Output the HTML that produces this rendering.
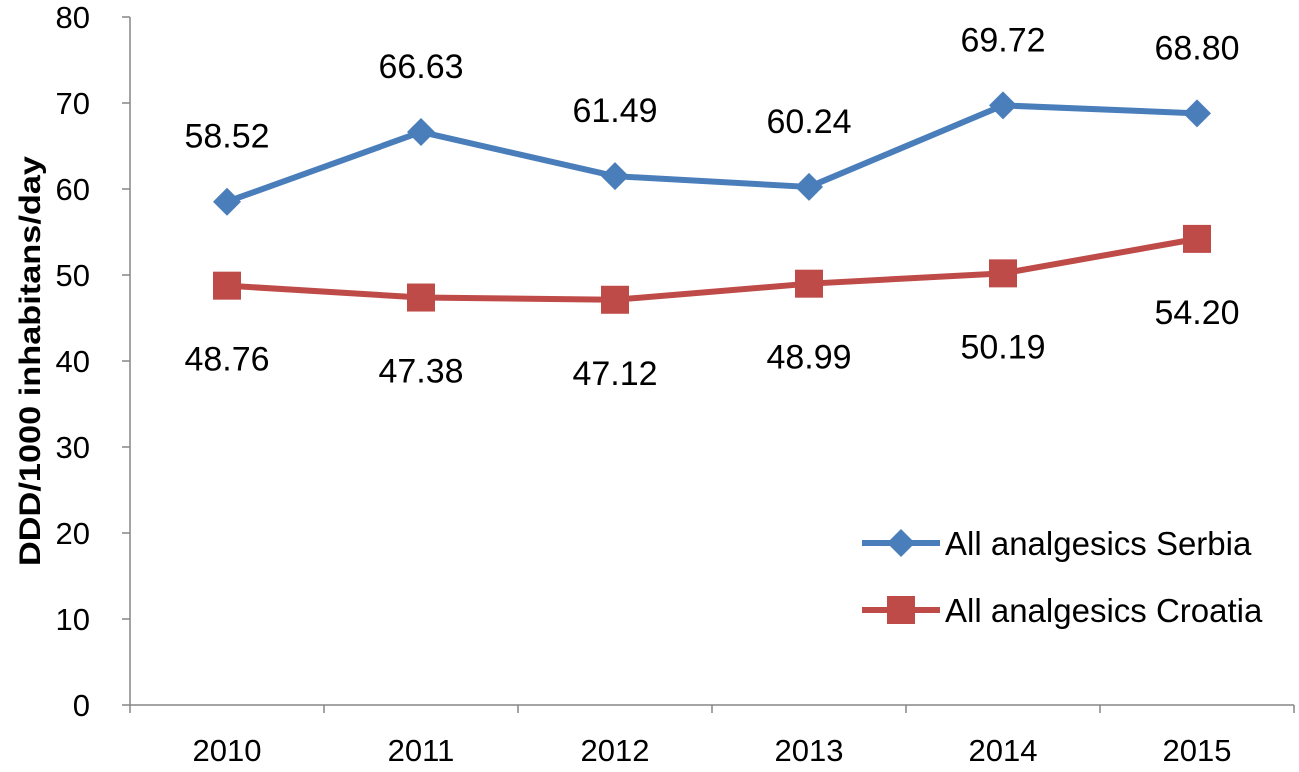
<!DOCTYPE html>
<html><head><meta charset="utf-8"><style>
html,body{margin:0;padding:0;background:#fff;}
svg{display:block;font-family:"Liberation Sans",sans-serif;}
</style></head><body>
<svg id="chart" width="1299" height="772" viewBox="0 0 1299 772"></svg>
<script>
const categories=["2010","2011","2012","2013","2014","2015"];
const serbia=[58.52,66.63,61.49,60.24,69.72,68.80];
const croatia=[48.76,47.38,47.12,48.99,50.19,54.20];
const yTicks=[0,10,20,30,40,50,60,70,80];
const seriesNames=["All analgesics Serbia","All analgesics Croatia"];

const NS="http://www.w3.org/2000/svg";
const svg=document.getElementById('chart');
const x0=130,x1=1294,yBot=705,yTop=17,yMax=80;
const step=(x1-x0)/categories.length;
const X=i=>x0+step*(i+0.5);
const Y=v=>yBot-(v/yMax)*(yBot-yTop);
function el(tag,attrs,parent){const e=document.createElementNS(NS,tag);for(const k in attrs)e.setAttribute(k,attrs[k]);(parent||svg).appendChild(e);return e;}

const axes=el('g',{});


let a=el('line',{x1:x0,y1:yTop,x2:x0,y2:yBot,stroke:'#868686','stroke-width':1.5},axes);


a=el('line',{x1:x0,y1:yBot,x2:x1,y2:yBot,stroke:'#868686','stroke-width':1.5},axes);


yTicks.forEach(t=>{
  el('line',{x1:x0-8,y1:Y(t),x2:x0,y2:Y(t),stroke:'#868686','stroke-width':1.5},axes);
  const tx=el('text',{x:x0-40,y:Y(t)+11,'text-anchor':'end','font-size':31,fill:'#000'},axes);
  tx.textContent=t;
  
  
});
for(let i=0;i<=categories.length;i++){
  el('line',{x1:x0+step*i,y1:yBot,x2:x0+step*i,y2:yBot+8,stroke:'#868686','stroke-width':1.5},axes);
}
categories.forEach((c,i)=>{
  const tx=el('text',{x:X(i),y:yBot+56,'text-anchor':'middle','font-size':31,fill:'#000'},axes);
  tx.textContent=c;
  
  
});
const yt=el('text',{x:0,y:0,transform:'translate(40,361) rotate(-90)','text-anchor':'middle','font-size':30,'font-weight':'bold',fill:'#000',textLength:410,lengthAdjust:'spacingAndGlyphs'});
yt.textContent='DDD/1000 inhabitans/day';



function marker(g,type,cx,cy,color){
  let m;
  if(type==='diamond') m=el('polygon',{points:`${cx},${cy-14} ${cx+14},${cy} ${cx},${cy+14} ${cx-14},${cy}`,fill:color},g);
  else m=el('rect',{x:cx-14,y:cy-14,width:28,height:28,fill:color},g);
  return m;
}
function series(vals,color,type,labelOff,name){
  const g=el('g',{});
  
  
  el('polyline',{points:vals.map((v,i)=>X(i)+','+Y(v)).join(' '),fill:'none',stroke:color,'stroke-width':6,'stroke-linejoin':'round'},g);
  vals.forEach((v,i)=>{
    const m=marker(g,type,X(i),Y(v),color);
    
    
    const t=el('text',{x:X(i),y:Y(v)+labelOff,'text-anchor':'middle','font-size':34,fill:'#000'},g);
    t.textContent=v.toFixed(2);
    
    
  });
}
series(serbia,'#4a7ebb','diamond',-54,'series-serbia');
series(croatia,'#be4b48','square',85,'series-croatia');

const lg=el('g',{});


[['#4a7ebb','diamond',543],['#be4b48','square',610]].forEach((s,i)=>{
  const e=el('g',{},lg);
  
  
  el('line',{x1:862,y1:s[2],x2:940,y2:s[2],stroke:s[0],'stroke-width':6},e);
  marker(e,s[1],901,s[2],s[0]);
  const t=el('text',{x:945,y:s[2]+12,'font-size':33,fill:'#000'},e);
  t.textContent=seriesNames[i];
});
</script>
</body></html>
